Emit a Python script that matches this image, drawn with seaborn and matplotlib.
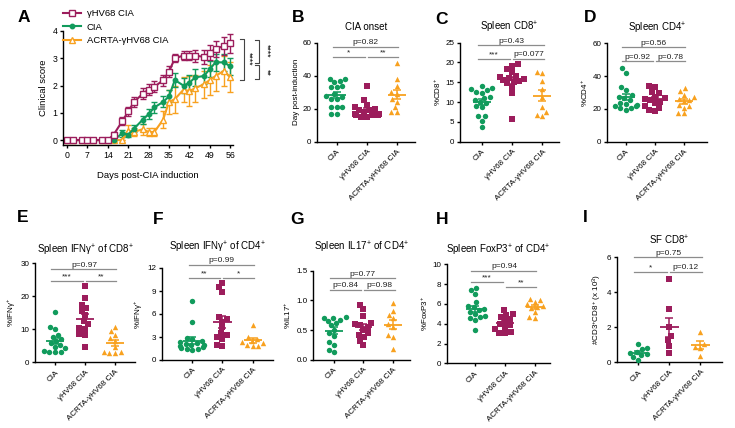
import numpy as np
import pandas as pd
import matplotlib as mpl
import matplotlib.pyplot as plt
from matplotlib.lines import Line2D
import seaborn as sns

groups = ['CIA', 'γHV68 CIA', 'ACRTA-γHV68 CIA']
colors = {'CIA': '#119b5c', 'γHV68 CIA': '#9c1d5c', 'ACRTA-γHV68 CIA': '#f8a11f'}
markers = {'CIA': 'o', 'γHV68 CIA': 's', 'ACRTA-γHV68 CIA': '^'}

# A: clinical score (mean, SEM) per scoring day
days = [0, 2, 5, 7, 9, 12, 14, 16, 19, 21, 23, 26, 28, 30, 33, 35, 37, 40, 42, 44, 47, 49, 51, 54, 56]
score_ghv = [0, 0, 0, 0, 0, 0, 0, 0.2, 0.7, 1.05, 1.4, 1.7, 1.85, 1.95, 2.2, 2.5, 3.0, 3.1, 3.1, 3.1, 3.05, 3.2, 3.35, 3.45, 3.55]
sem_ghv = [0, 0, 0, 0, 0, 0, 0, 0.1, 0.15, 0.17, 0.17, 0.2, 0.2, 0.2, 0.2, 0.2, 0.15, 0.15, 0.18, 0.22, 0.25, 0.28, 0.3, 0.33, 0.35]
score_cia = [0, 0, 0, 0, 0, 0, 0, 0, 0.25, 0.2, 0.42, 0.75, 0.95, 1.2, 1.4, 1.6, 2.2, 2.0, 2.1, 2.3, 2.35, 2.6, 2.85, 2.85, 2.7]
sem_cia = [0, 0, 0, 0, 0, 0, 0, 0, 0.12, 0.1, 0.13, 0.15, 0.18, 0.2, 0.2, 0.22, 0.25, 0.28, 0.3, 0.3, 0.3, 0.3, 0.3, 0.32, 0.3]
score_acrta = [0, 0, 0, 0, 0, 0, 0, 0, 0, 0.35, 0.3, 0.4, 0.3, 0.3, 0.75, 1.4, 1.5, 1.85, 1.8, 1.9, 2.05, 2.2, 2.35, 2.55, 2.3]
sem_acrta = [0, 0, 0, 0, 0, 0, 0, 0, 0, 0.2, 0.15, 0.2, 0.15, 0.15, 0.3, 0.45, 0.5, 0.45, 0.55, 0.5, 0.5, 0.55, 0.55, 0.55, 0.55]
sig_A = ['****', '****', '**']

# B: CIA onset
onset_cia = [38, 38, 37, 36, 34, 33, 33, 29, 28, 27, 26, 26, 21, 21, 21, 17, 17]
onset_ghv = [34, 25, 22, 21, 20, 19, 19, 18, 17, 17, 17, 16, 16, 16, 15, 15]
onset_acrta = [48, 38, 34, 30, 29, 26, 24, 21, 18, 18]
sig_B = ['p=0.82', '*', '**']

# C: spleen CD8+
cd8_cia = [14, 13.6, 13.2, 13, 12.6, 12.4, 11.4, 11, 10.5, 10.1, 9.7, 9, 8.8, 6.5, 6.4, 5.3, 3.6]
cd8_ghv = [19.5, 19.1, 18.3, 17.7, 16.5, 16.3, 16, 15.8, 15.6, 15.4, 15.2, 14.7, 13.9, 12.2, 5.7]
cd8_acrta = [17.7, 17.4, 15.4, 13.2, 11.4, 8.8, 7.6, 6.6, 6.8]
sig_C = ['p=0.43', '***', 'p=0.077']

# D: spleen CD4+
cd4_cia = [44.7, 42.1, 33.2, 31.5, 28.5, 27.5, 26.5, 25.5, 23.8, 23, 22.4, 22, 21.6, 20.4, 19.3, 20.5]
cd4_ghv = [34, 33.5, 30.5, 29.5, 27.5, 26.5, 26, 25.5, 24.5, 23.5, 21.5, 20.5, 19.5, 18.5]
cd4_acrta = [32.5, 31, 28.5, 27, 26, 25.4, 24.6, 22.4, 21.6, 20.8, 17.7, 17.5]
sig_D = ['p=0.56', 'p=0.92', 'p=0.78']

# E: spleen IFNg+ of CD8+
ifn8_cia = [15.3, 10.6, 10, 8.3, 7.8, 7, 6.5, 5.8, 5.2, 4.7, 4.2, 3.3, 3.1, 3, 3]
ifn8_ghv = [23, 19.5, 17.5, 16.5, 15.5, 14.2, 12.5, 11.5, 10.5, 10.2, 8.5, 8.3, 4.5]
ifn8_acrta = [10.8, 9.6, 8.3, 7.4, 6.6, 4.7, 3, 2.9, 2.9, 3.2]
sig_E = ['p=0.97', '***', '**']

# F: spleen IFNg+ of CD4+
ifn4_cia = [7.7, 4.9, 2.9, 2.7, 2.5, 2.3, 2.2, 2.1, 2.0, 1.9, 1.8, 1.7, 1.6, 1.5, 1.4, 1.3]
ifn4_ghv = [10.1, 9.5, 8.9, 5.6, 5.3, 5.0, 4.3, 3.5, 3.2, 3.0, 2.7, 1.8, 1.9]
ifn4_acrta = [4.6, 3.0, 2.7, 2.5, 2.3, 2.2, 2.0, 1.8, 1.8]
sig_F = ['p=0.99', '**', '*']

# G: spleen IL17+ of CD4+
il17_cia = [0.72, 0.71, 0.70, 0.68, 0.66, 0.62, 0.58, 0.50, 0.45, 0.40, 0.30, 0.25, 0.17, 0.13]
il17_ghv = [0.92, 0.85, 0.74, 0.62, 0.60, 0.58, 0.55, 0.50, 0.45, 0.42, 0.38, 0.32, 0.25]
il17_acrta = [0.95, 0.82, 0.76, 0.70, 0.60, 0.55, 0.42, 0.38, 0.18]
sig_G = ['p=0.77', 'p=0.84', 'p=0.98']

# H: spleen FoxP3+ of CD4+
foxp3_cia = [7.6, 7.4, 7.0, 6.2, 5.8, 5.7, 5.5, 5.4, 5.2, 5.0, 4.8, 4.7, 4.6, 4.4, 3.4]
foxp3_ghv = [5.4, 4.9, 5.0, 4.7, 4.5, 4.3, 4.0, 3.9, 3.7, 3.5, 3.2, 3.1, 3.1]
foxp3_acrta = [6.5, 6.4, 6.2, 6.0, 5.8, 5.7, 5.6, 5.2, 4.7, 4.6]
sig_H = ['p=0.94', '***', '**']

# I: synovial fluid CD8+ counts (x10^3)
sf_cia = [1.05, 0.8, 0.75, 0.6, 0.55, 0.45, 0.4, 0.3, 0.13]
sf_ghv = [4.75, 3.05, 2.0, 1.5, 1.25, 0.95, 0.55]
sf_acrta = [1.75, 1.05, 0.9, 0.8, 0.35]
sig_I = ['p=0.75', '*', 'p=0.12']

mpl.rcParams['font.family'] = ['Liberation Sans', 'DejaVu Sans']
mpl.rcParams['mathtext.fontset'] = 'custom'
mpl.rcParams['mathtext.rm'] = 'Liberation Sans'
mpl.rcParams['mathtext.it'] = 'Liberation Sans:italic'
mpl.rcParams['mathtext.bf'] = 'Liberation Sans:bold'
mpl.rcParams['axes.linewidth'] = 1.0
mpl.rcParams['xtick.major.width'] = 1.0
mpl.rcParams['ytick.major.width'] = 1.0
mpl.rcParams['xtick.major.size'] = 2.5
mpl.rcParams['ytick.major.size'] = 2.5
mpl.rcParams['xtick.major.pad'] = 2
mpl.rcParams['ytick.major.pad'] = 1.5

W, H = 735, 428
fig = plt.figure(figsize=(W / 100, H / 100), dpi=100)


def px_axes(x, top, w, h):
    return fig.add_axes([x / W, 1 - (top + h) / H, w / W, h / H])


def letter(x, y, s):
    fig.text(x / W, 1 - y / H, s, fontsize=12.5, fontweight='bold', ha='center', va='center')


# ---- panel A
axA = px_axes(63, 31, 170, 114)
series_A = [(score_ghv, sem_ghv, 'γHV68 CIA', 'white', 3.8),
            (score_cia, sem_cia, 'CIA', None, 3.2),
            (score_acrta, sem_acrta, 'ACRTA-γHV68 CIA', 'white', 4.0)]
handles = []
for score, sem, g, mfc, ms in series_A[::-1]:
    axA.errorbar(days, score, yerr=sem, color=colors[g], marker=markers[g], ms=ms,
                 mfc=mfc if mfc else colors[g], mec=colors[g], mew=1.0, lw=1.5,
                 elinewidth=1.0, capsize=2.0, capthick=1.0, clip_on=False)
for score, sem, g, mfc, ms in series_A:
    handles.append(Line2D([], [], color=colors[g], marker=markers[g], ms=ms,
                          mfc=mfc if mfc else colors[g], mec=colors[g], mew=1.0, lw=1.5))
axA.legend(handles, [h[2] for h in series_A], loc='upper left', bbox_to_anchor=(0.0, 1.19),
           frameon=False, fontsize=6.8, handlelength=1.9, handletextpad=0.6,
           labelspacing=0.45, borderpad=0, borderaxespad=0)
axA.set_xlim(-1.4, 57)
axA.set_ylim(-0.18, 4)
axA.set_xticks(range(0, 57, 7))
axA.set_yticks(range(0, 5))
axA.tick_params(labelsize=6.3)
axA.set_xlabel('Days post-CIA induction', fontsize=6.8, labelpad=8)
axA.set_ylabel('Clinical score', fontsize=6.8, labelpad=3)
sns.despine(ax=axA)


def bracket(ax, x0, x1, y0, y1, label, xt, yt):
    ax.plot([x0, x1, x1, x0], [y0, y0, y1, y1], color='#444444', lw=0.8, clip_on=False)
    ax.text(xt, yt, label, rotation=270, ha='center', va='center', fontsize=6.3)


bracket(axA, 59.5, 60.8, 3.7, 2.2, sig_A[0], 62.4, 2.97)
bracket(axA, 64.6, 66.0, 3.66, 2.83, sig_A[1], 68.6, 3.26)
bracket(axA, 64.6, 66.0, 2.75, 2.23, sig_A[2], 68.6, 2.49)
letter(24, 17, 'A')

# ---- dot panels
panels = [
    ('B', [onset_cia, onset_ghv, onset_acrta], 'CIA onset', 'Day post-induction', sig_B, [0, 20, 40, 60], None),
    ('C', [cd8_cia, cd8_ghv, cd8_acrta], 'Spleen CD8$^{+}$', '%CD8$^{+}$', sig_C, [0, 5, 10, 15, 20, 25], None),
    ('D', [cd4_cia, cd4_ghv, cd4_acrta], 'Spleen CD4$^{+}$', '%CD4$^{+}$', sig_D, [0, 20, 40, 60], None),
    ('E', [ifn8_cia, ifn8_ghv, ifn8_acrta], 'Spleen IFNγ$^{+}$ of CD8$^{+}$', '%IFNγ$^{+}$', sig_E, [0, 10, 20, 30], None),
    ('F', [ifn4_cia, ifn4_ghv, ifn4_acrta], 'Spleen IFNγ$^{+}$ of CD4$^{+}$', '%IFNγ$^{+}$', sig_F, [0, 3, 6, 9, 12], None),
    ('G', [il17_cia, il17_ghv, il17_acrta], 'Spleen IL17$^{+}$ of CD4$^{+}$', '%IL17$^{+}$', sig_G, [0, 0.5, 1.0, 1.5], '%.1f'),
    ('H', [foxp3_cia, foxp3_ghv, foxp3_acrta], 'Spleen FoxP3$^{+}$ of CD4$^{+}$', '%FoxP3$^{+}$', sig_H, [0, 2, 4, 6, 8, 10], None),
    ('I', [sf_cia, sf_ghv, sf_acrta], 'SF CD8$^{+}$', '#CD3$^{+}$CD8$^{+}$ (x 10$^{3}$)', sig_I, [0, 2, 4, 6], None),
]

# layout in pixels: axes box (x, top, w, h), xlim, sig line heights (top, left, right), title y, letter xy
layout = {
    'B': ((317, 42.7, 98, 99), (-0.65, 2.6), (57.6, 51.5, 51.5), 27, (298, 18)),
    'C': ((460, 42.7, 99, 99), (-0.72, 2.55), (24.4, 20.9, 20.9), 27, (442, 20)),
    'D': ((607, 43.3, 100, 98.4), (-0.65, 2.8), (57.6, 49, 49), 28, (590, 18)),
    'E': ((35, 263.3, 100, 99), (-0.67, 2.67), (28.2, 24.7, 24.7), 250, (23, 218)),
    'F': ((162, 268, 111, 92), (-1.0, 2.67), (12.4, 10.65, 10.65), 247, (158, 220)),
    'G': ((313, 270.7, 97, 89.3), (-0.7, 2.57), (1.37, 1.18, 1.18), 247, (297, 220)),
    'H': ((447, 264.3, 103, 99), (-0.93, 2.5), (9.35, 8.24, 7.68), 250, (442, 220)),
    'I': ((617, 257.3, 105, 105), (-0.68, 2.7), (6.0, 5.18, 5.18), 240, (585, 217)),
}

gray = '#8c8c8c'
for key, vals, title, ylabel, sig, yticks, fmt in panels:
    box, xlim, sig_y, title_y, lxy = layout[key]
    ax = px_axes(*box)
    df = pd.DataFrame({'group': np.repeat(groups, [len(v) for v in vals]),
                       'value': np.concatenate(vals)})
    for g in groups:
        sns.swarmplot(data=df[df.group == g], x='group', y='value', order=groups,
                      color=colors[g], marker=markers[g], size=3.9, linewidth=0,
                      ax=ax, warn_thresh=1, clip_on=False, zorder=3)
    stats = df.groupby('group', sort=False)['value'].agg(['mean', 'sem'])
    for i, g in enumerate(groups):
        m, se = stats.loc[g, 'mean'], stats.loc[g, 'sem']
        ax.hlines(m, i - 0.3, i + 0.3, color=colors[g], lw=1.3, zorder=5)
        ax.errorbar(i, m, yerr=se, color=colors[g], capsize=2.8, elinewidth=1.1,
                    capthick=1.1, zorder=5)
    ax.set_xlim(*xlim)
    ax.set_ylim(yticks[0], yticks[-1])
    ax.set_yticks(yticks)
    if fmt:
        ax.set_yticklabels([fmt % t for t in yticks])
    ax.set_xticks(range(3))
    ax.set_xticklabels(groups, rotation=45, ha='right', rotation_mode='anchor', fontsize=5.8)
    ax.tick_params(axis='y', labelsize=5.8)
    ax.set_xlabel('')
    ax.set_ylabel(ylabel, fontsize=5.8, labelpad=2)
    sns.despine(ax=ax)

    y_top, y_left, y_right = sig_y
    ax.plot([-0.12, 2.05], [y_top] * 2, color=gray, lw=0.9, clip_on=False)
    ax.plot([-0.12, 0.93], [y_left] * 2, color=gray, lw=0.9, clip_on=False)
    ax.plot([1.03, 2.05], [y_right] * 2, color=gray, lw=0.9, clip_on=False)
    for xt, yt, s in [(0.97, y_top, sig[0]), (0.4, y_left, sig[1]), (1.54, y_right, sig[2])]:
        ax.annotate(s, (xt, yt), xytext=(0, 0.4), textcoords='offset points',
                    ha='center', va='bottom', fontsize=6, color='#222222',
                    annotation_clip=False)

    h = box[3]
    ax.text(0.5, 1 + (box[1] - title_y) / h, title, transform=ax.transAxes,
            ha='center', va='center', fontsize=7)
    letter(lxy[0], lxy[1], key)

fig.savefig('out.png', dpi=100)
